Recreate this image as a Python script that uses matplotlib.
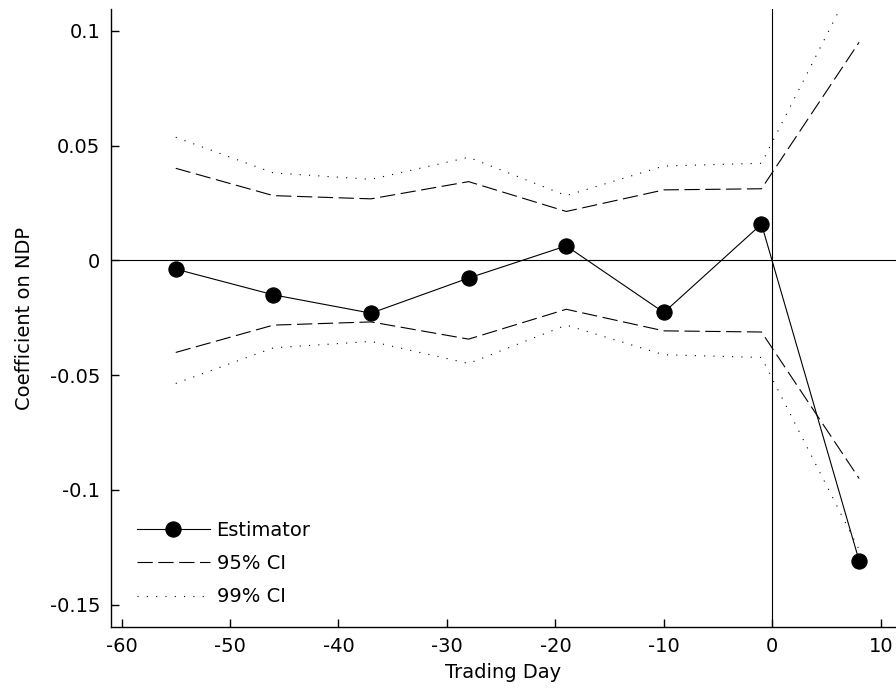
import numpy as np
import matplotlib
matplotlib.use("Agg")
import matplotlib.pyplot as plt

plt.rcParams['font.family'] = ['DejaVu Sans']
plt.rcParams['lines.scale_dashes'] = False

# trading days and estimates
days = [-55, -46, -37, -28, -19, -10, -1, 8]
estimator = [-0.0038, -0.0150, -0.0230, -0.0077, 0.0063, -0.0227, 0.0158, -0.1308]
ci95 = [0.0401, 0.0282, 0.0268, 0.0343, 0.0213, 0.0307, 0.0312, 0.0950]
ci99 = [0.0536, 0.0381, 0.0353, 0.0449, 0.0282, 0.0411, 0.0423, 0.1260]

xticks = [-60, -50, -40, -30, -20, -10, 0, 10]
yticks = [-0.15, -0.1, -0.05, 0, 0.05, 0.1]
ytick_labels = ['-0.15', '-0.1', '-0.05', '0', '0.05', '0.1']

fig = plt.figure(figsize=(8.96, 6.96), dpi=100)
ax = fig.add_axes([0.1235, 0.0991, 0.8765, 0.888])

lw = 0.8
ax.axhline(0, color='black', lw=lw)
ax.axvline(0, color='black', lw=lw)

ax.plot(days, estimator, color='black', lw=lw, marker='o', markersize=11,
        markeredgewidth=0.75, label='Estimator')
ax.plot(days, ci95, color='black', lw=lw, dashes=(11, 4), label='95% CI')
ax.plot(days, ci99, color='black', lw=lw, dashes=(0.8, 5.9), label='99% CI')
ax.plot(days, -np.array(ci95), color='black', lw=lw, dashes=(11, 4))
ax.plot(days, -np.array(ci99), color='black', lw=lw, dashes=(0.8, 5.9))

ax.set_xlim(-61, 11.4)
ax.set_ylim(-0.1597, 0.1095)
ax.set_xticks(xticks)
ax.set_xticklabels([str(t) for t in xticks])
ax.set_yticks(yticks)
ax.set_yticklabels(ytick_labels)

for s in ['top', 'right']:
    ax.spines[s].set_visible(False)
for s in ['left', 'bottom']:
    ax.spines[s].set_linewidth(1.0)

ax.tick_params(direction='in', length=5.8, width=1.0, labelsize=14, pad=7.5)

ax.set_xlabel('Trading Day', fontsize=14, labelpad=5)
ax.set_ylabel('Coefficient on NDP', fontsize=14, labelpad=11)

ax.legend(loc='lower left', bbox_to_anchor=(0.0331, 0.0335), frameon=False,
          borderpad=0, borderaxespad=0,
          fontsize=14, handlelength=3.76, handletextpad=0.35, labelspacing=0.74)

fig.savefig('out.png', dpi=100)
